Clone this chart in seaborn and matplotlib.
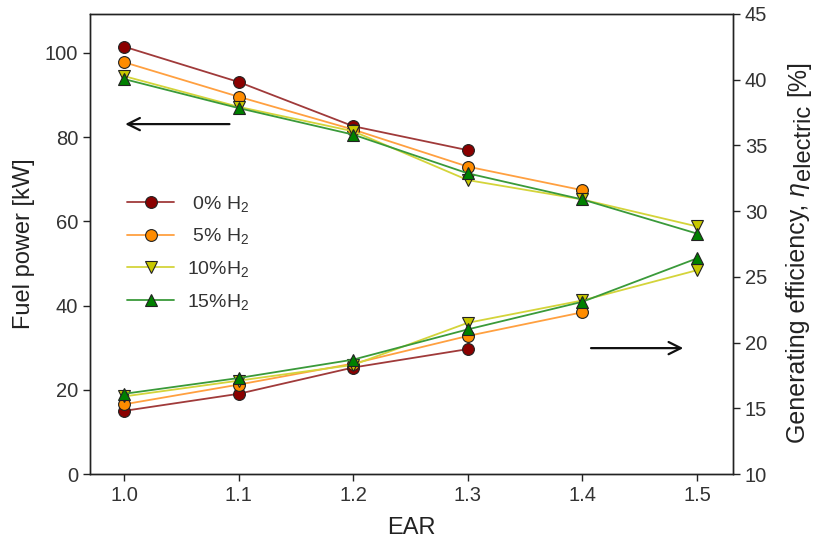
import matplotlib
matplotlib.use("Agg")
import matplotlib.pyplot as plt
from matplotlib.transforms import IdentityTransform
import seaborn as sns
import pandas as pd

# EAR (excess air ratio) values
ear = [1.0, 1.1, 1.2, 1.3, 1.4, 1.5]

# Fuel power [kW] per hydrogen fraction
fuel_0 = [101.5, 93.1, 82.6, 76.9]
fuel_5 = [97.8, 89.6, 81.8, 73.0, 67.4]
fuel_10 = [94.5, 87.2, 81.4, 69.8, 65.2, 58.8]
fuel_15 = [93.8, 86.9, 80.6, 71.4, 65.2, 57.1]

# Generating efficiency [%] per hydrogen fraction
eff_0 = [14.8, 16.1, 18.1, 19.5]
eff_5 = [15.3, 16.8, 18.4, 20.5, 22.3]
eff_10 = [15.9, 17.1, 18.3, 21.5, 23.2, 25.5]
eff_15 = [16.1, 17.3, 18.7, 21.0, 23.1, 26.4]

labels = [" 0% H$_2$", " 5% H$_2$", "10%H$_2$", "15%H$_2$"]
fuel_series = [fuel_0, fuel_5, fuel_10, fuel_15]
eff_series = [eff_0, eff_5, eff_10, eff_15]

sns.set_theme(style="ticks")
plt.rcParams["font.family"] = ["Liberation Sans", "DejaVu Sans"]
plt.rcParams["mathtext.fontset"] = "custom"
plt.rcParams["mathtext.rm"] = "Liberation Sans"
plt.rcParams["mathtext.it"] = "Liberation Sans:italic"

line_colors = ["#a03a3a", "#ffa040", "#d4d43a", "#3a9a3a"]
face_colors = ["#8b0000", "#ff8c00", "#c8c800", "#008000"]
markers = ["o", "o", "v", "^"]
text_col = "#222222"

fig = plt.figure(figsize=(8.16, 5.51), dpi=100)
ax = fig.add_axes([0.1103, 0.1397, 0.7880, 0.8353])
ax2 = ax.twinx()

for lab, fv, ev, lc, fc, mk in zip(labels, fuel_series, eff_series,
                                   line_colors, face_colors, markers):
    df_f = pd.DataFrame({"EAR": ear[:len(fv)], "val": fv})
    df_e = pd.DataFrame({"EAR": ear[:len(ev)], "val": ev})
    style = dict(color=lc, marker=mk, markersize=8.5, markerfacecolor=fc,
                 markeredgecolor="#222222", markeredgewidth=0.8,
                 linewidth=1.3)
    sns.lineplot(data=df_f, x="EAR", y="val", ax=ax, label=lab, **style)
    sns.lineplot(data=df_e, x="EAR", y="val", ax=ax2, legend=False, **style)

ax.set_xlim(0.9703, 1.5314)
ax.set_ylim(0, 109.3)
ax2.set_ylim(10, 45)
ax.set_xticks(ear)
ax.set_xticklabels([f"{v:.1f}" for v in ear])
ax.set_yticks([0, 20, 40, 60, 80, 100])
ax2.set_yticks([10, 15, 20, 25, 30, 35, 40, 45])

for a in (ax, ax2):
    a.tick_params(direction="out", length=5, width=1, labelsize=14.5,
                  colors="#222222", labelcolor="#333333")
    for s in a.spines.values():
        s.set_color("#222222")
        s.set_linewidth(1.0)

ax.set_xlabel("EAR", fontsize=17, color=text_col, labelpad=9)
ax.set_ylabel("Fuel power [kW]", fontsize=17, color=text_col, labelpad=7)
ax2.set_ylabel("")

# Right axis title built from pieces so the subscript keeps a large size
renderer = fig.canvas.get_renderer()


def vertical_piece(x, y, s, size, **kw):
    t = fig.text(x, y, s, transform=IdentityTransform(), rotation=90,
                 rotation_mode="anchor", ha="left", va="baseline",
                 fontsize=size, color=text_col, **kw)
    return t.get_window_extent(renderer).height


y = 108
y += vertical_piece(805, y, "Generating efficiency,", 18) + 8
y += vertical_piece(805, y, "\u03b7", 18, fontstyle="italic") + 2
y += vertical_piece(810, y, "electric", 17) + 9
vertical_piece(805, y, "[%]", 18)

# Arrows pointing to the axis each group of curves belongs to
ax.annotate("", xy=(1.001, 83.1), xytext=(1.092, 83.1),
            arrowprops=dict(arrowstyle="->", lw=1.6, color="#111111",
                            mutation_scale=22, shrinkA=0, shrinkB=0))
ax.annotate("", xy=(1.488, 29.9), xytext=(1.4075, 29.9),
            arrowprops=dict(arrowstyle="->", lw=1.6, color="#111111",
                            mutation_scale=22, shrinkA=0, shrinkB=0))

leg = ax.legend(loc="upper left", bbox_to_anchor=(0.031, 0.647),
                frameon=False, fontsize=14, handlelength=2.4,
                labelspacing=0.65, handletextpad=0.67, labelcolor="#333333")

fig.savefig("out.png", dpi=100)
